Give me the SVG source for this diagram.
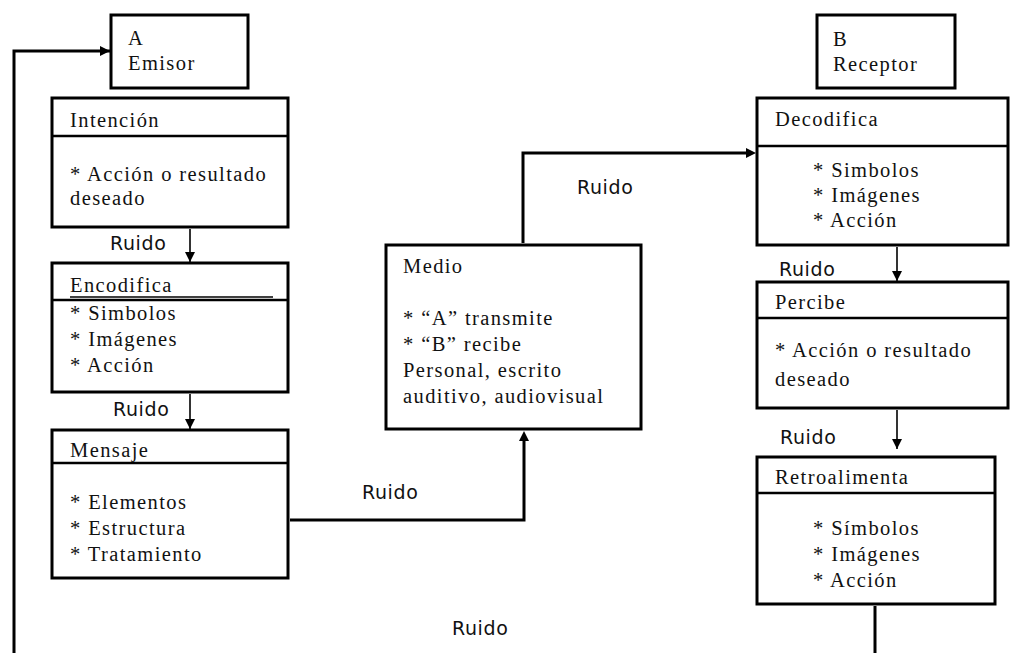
<svg xmlns="http://www.w3.org/2000/svg" width="1011" height="653" viewBox="0 0 1011 653">
<style>
.box{fill:#fff;stroke:#000;stroke-width:3}
.div{stroke:#000;stroke-width:2.5}
.t{font-family:"Liberation Serif","Times New Roman",serif;font-size:20.5px;letter-spacing:1.4px;fill:#111}
.r{font-family:"DejaVu Sans",sans-serif;font-size:19px;letter-spacing:0.6px;fill:#111}
.c{fill:none;stroke:#000;stroke-width:3}
.s{fill:none;stroke:#000;stroke-width:1.6}
</style>
<defs>
<marker id="ah" viewBox="0 0 10 10" refX="10" refY="5" markerWidth="10" markerHeight="10" markerUnits="userSpaceOnUse" orient="auto">
<path d="M0,0 L10,5 L0,10 Z" fill="#000"/>
</marker>
</defs>
<rect width="1011" height="653" fill="#fff"/>
<g id="labels">
<text class="r" x="110" y="250">Ruido</text>
<text class="r" x="113" y="416">Ruido</text>
<text class="r" x="362" y="499">Ruido</text>
<text class="r" x="577" y="194">Ruido</text>
<text class="r" x="779" y="276">Ruido</text>
<text class="r" x="780" y="444">Ruido</text>
<text class="r" x="452" y="635">Ruido</text>
</g>
<g id="emisor">
<rect class="box" x="111" y="15" width="137" height="73"/>
<text class="t" x="128" y="45">A</text>
<text class="t" x="128" y="70">Emisor</text>
</g>
<g id="intencion">
<rect class="box" x="52" y="98" width="236" height="129"/>
<line class="div" x1="52" y1="136" x2="288" y2="136"/>
<text class="t" x="70" y="127">Intención</text>
<text class="t" x="70" y="181">* Acción o resultado</text>
<text class="t" x="70" y="205">deseado</text>
</g>
<g id="encodifica">
<rect class="box" x="52" y="263" width="236" height="129"/>
<line class="div" x1="52" y1="300" x2="288" y2="300"/>
<line x1="70" y1="297" x2="273" y2="297" stroke="#000" stroke-width="1.5"/>
<text class="t" x="70" y="292">Encodifica</text>
<text class="t" x="70" y="320">* Simbolos</text>
<text class="t" x="70" y="346">* Imágenes</text>
<text class="t" x="70" y="372">* Acción</text>
</g>
<g id="mensaje">
<rect class="box" x="52" y="430" width="236" height="148"/>
<line class="div" x1="52" y1="463" x2="288" y2="463"/>
<text class="t" x="70" y="457">Mensaje</text>
<text class="t" x="70" y="509">* Elementos</text>
<text class="t" x="70" y="535">* Estructura</text>
<text class="t" x="70" y="561">* Tratamiento</text>
</g>
<g id="medio">
<rect class="box" x="386" y="245" width="255" height="184"/>
<text class="t" x="403" y="273">Medio</text>
<text class="t" x="403" y="325">* “A” transmite</text>
<text class="t" x="403" y="351">* “B” recibe</text>
<text class="t" x="403" y="377">Personal, escrito</text>
<text class="t" x="403" y="403">auditivo, audiovisual</text>
</g>
<g id="receptor">
<rect class="box" x="817" y="15" width="138" height="73"/>
<text class="t" x="833" y="46">B</text>
<text class="t" x="833" y="71">Receptor</text>
</g>
<g id="decodifica">
<rect class="box" x="757" y="98" width="251" height="147"/>
<line class="div" x1="757" y1="146" x2="1008" y2="146"/>
<text class="t" x="775" y="126">Decodifica</text>
<text class="t" x="813" y="177">* Simbolos</text>
<text class="t" x="813" y="202">* Imágenes</text>
<text class="t" x="813" y="227">* Acción</text>
</g>
<g id="percibe">
<rect class="box" x="757" y="282" width="251" height="126"/>
<line class="div" x1="757" y1="318" x2="1008" y2="318"/>
<text class="t" x="775" y="309">Percibe</text>
<text class="t" x="775" y="357">* Acción o resultado</text>
<text class="t" x="775" y="386">deseado</text>
</g>
<g id="retroalimenta">
<rect class="box" x="757" y="457" width="238" height="147"/>
<line class="div" x1="757" y1="493" x2="995" y2="493"/>
<text class="t" x="775" y="484">Retroalimenta</text>
<text class="t" x="813" y="535">* Símbolos</text>
<text class="t" x="813" y="561">* Imágenes</text>
<text class="t" x="813" y="587">* Acción</text>
</g>
<g id="connectors">
<path class="c" d="M14,653 V51 H110" marker-end="url(#ah)"/>
<path class="s" d="M190,229 V262" marker-end="url(#ah)"/>
<path class="s" d="M190,394 V429" marker-end="url(#ah)"/>
<path class="c" d="M290,520 H524 V440"/>
<path d="M519,441 L529,441 L524,431 Z" fill="#000"/>
<path class="c" d="M523,243 V153 H748"/>
<path d="M746,148 L756,153 L746,158 Z" fill="#000"/>
<path class="s" d="M897,247 V281" marker-end="url(#ah)"/>
<path class="s" d="M897,410 V449" marker-end="url(#ah)"/>
<path class="c" d="M875,606 V653"/>
</g>
</svg>
